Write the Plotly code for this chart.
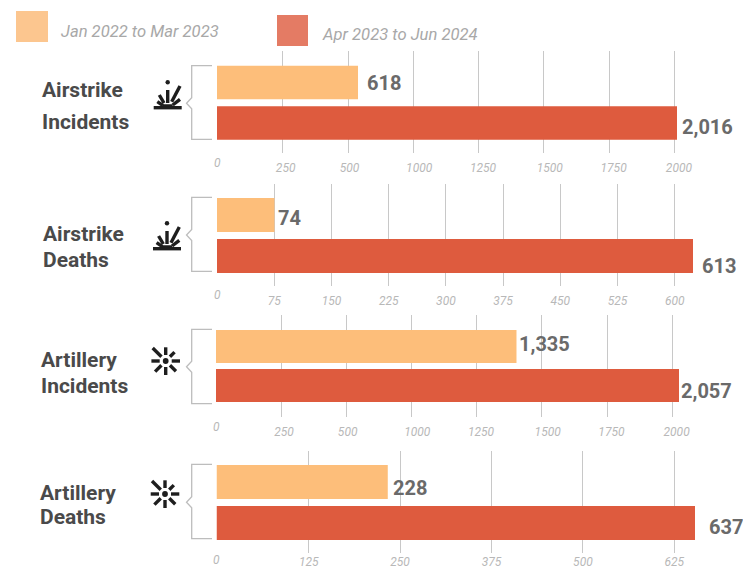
import math
import plotly.graph_objects as go

W, H = 743, 568

# Reporting periods and the figures for each panel
periods = ["Jan 2022 to Mar 2023", "Apr 2023 to Jun 2024"]
airstrike_incidents = [618, 2016]
airstrike_deaths = [74, 613]
artillery_incidents = [1335, 2057]
artillery_deaths = [228, 637]
panel_titles = [["Airstrike", "Incidents"], ["Airstrike", "Deaths"],
                ["Artillery", "Incidents"], ["Artillery", "Deaths"]]

# Axis labels, as printed on each panel
incident_ticks = ["250", "500", "1000", "1250", "1500", "1750", "2000"]
airstrike_death_ticks = ["75", "150", "225", "300", "375", "450", "525", "600"]
artillery_death_ticks = ["125", "250", "375", "500", "625"]

LIGHT, DARK = "#FDBE7A", "#DE5B3E"
SWATCH_LIGHT, SWATCH_DARK = "#FCC68F", "#E47B64"
GRID, BRACKET = "#C8C8C8", "#BDBDBD"
TITLE_C, VALUE_C, TICK_C, LEGEND_C = "#4A4A4A", "#6A6A6A", "#B8B8B8", "#A8A8A8"
FONT = "Roboto, sans-serif"


def px(x):
    return x / W


def py(y):
    return 1 - y / H


panels = [
    dict(values=airstrike_incidents, ticks=incident_ticks, left=217, grid=(51, 153),
         centers=(82.5, 123), bar_h=33.5, px_per_unit=460 / 2016, first_tick=282.7, tick_step=65.3,
         zero_y=162.5, standoff=6, pads=[2, 1, 4, 3, 4, 3, 3], shifts=[(7, 0), (3, 4)],
         title=[(40, 90), (39.5, 122)], bracket=(65.7, 103.3, 139.3), icon=("air", 167.7, 95)),
    dict(values=airstrike_deaths, ticks=airstrike_death_ticks, left=217, grid=(184, 286),
         centers=(215, 256), bar_h=34, px_per_unit=476 / 613, first_tick=274.3, tick_step=57.2,
         zero_y=295.5, standoff=6, pads=[0, 0, 0, 0, 0, 0, 0, 0], shifts=[(2, 3), (7, 10)],
         title=[(41.3, 234), (41.3, 260)], bracket=(197.3, 235, 271.3), icon=("air", 167, 236)),
    dict(values=artillery_incidents, ticks=incident_ticks, left=216, grid=(315, 417),
         centers=(346.5, 385.5), bar_h=33, px_per_unit=463 / 2057, first_tick=281, tick_step=65.2,
         zero_y=426.5, standoff=6, pads=[2, 1, 4, 3, 4, 3, 3], shifts=[(1, -3), (0, 5)],
         title=[(39, 360), (38.7, 386)], bracket=(329.3, 366.7, 403.7), icon=("art", 165.7, 361)),
    dict(values=artillery_deaths, ticks=artillery_death_ticks, left=216.5, grid=(451, 553),
         centers=(482, 523), bar_h=34, px_per_unit=478.5 / 637, first_tick=308.7, tick_step=91.4,
         zero_y=560, standoff=0, pads=[0, 0, 0, 0, 0], shifts=[(3, 6), (12, 4)],
         title=[(38, 492.7), (38, 517.3)], bracket=(464.3, 502.3, 538.7), icon=("art", 165, 494)),
]

fig = go.Figure()
shapes, annotations = [], []


def line(x0, y0, x1, y1, width=3.4, color="#1E1E1E"):
    return dict(type="line", xref="paper", yref="paper", x0=px(x0), y0=py(y0), x1=px(x1), y1=py(y1),
                line=dict(color=color, width=width), layer="above")


def dot(cx, cy, r, color="#1E1E1E"):
    return dict(type="circle", xref="paper", yref="paper", x0=px(cx - r), x1=px(cx + r),
                y0=py(cy - r), y1=py(cy + r), fillcolor=color, line=dict(width=0), layer="above")


def air_icon(cx, cy):
    # Ground line with a burst of rays rising from it
    items = [line(cx - 14, cy + 12.7, cx + 14, cy + 12.7), dot(cx, cy - 12.7, 2.2),
             line(cx - 5, cy + 10.5, cx + 5, cy + 10.5, 2.5)]
    rays = [(12.3, -9, 4, 6.7), (0, -5, 0, 8), (-8.4, 0, -3.7, 8), (-10.4, 6.7, -4.7, 10.5), (12.3, 4.3, 5, 10)]
    items += [line(cx + a, cy + b, cx + c, cy + d) for a, b, c, d in rays]
    return items


def art_icon(cx, cy):
    # Central dot surrounded by eight short spokes, one of them long
    items = [dot(cx, cy, 2.9)]
    reach = {0: 14.3, 45: 14.5, 90: 14, 135: 15, 180: 14.3, 225: 18.4, 270: 13.7, 315: 12.5}
    for ang, r1 in reach.items():
        a = math.radians(ang)
        items.append(line(cx + 6 * math.cos(a), cy + 6 * math.sin(a),
                          cx + r1 * math.cos(a), cy + r1 * math.sin(a)))
    return items


for i, p in enumerate(panels):
    n = "" if i == 0 else str(i + 1)
    scale = p["px_per_unit"]
    span = W - p["left"]
    # Gridline positions expressed in the panel's own units
    tickvals = [(p["first_tick"] + k * p["tick_step"] - p["left"]) / scale for k in range(len(p["ticks"]))]
    ticktext = ["\u00a0" * pad + label for pad, label in zip(p["pads"], p["ticks"])]
    g0, g1 = p["grid"]
    step = p["centers"][1] - p["centers"][0]
    top_units = (p["centers"][0] - g0) / step
    bottom_units = (g1 - p["centers"][0]) / step

    fig.add_trace(go.Bar(
        x=p["values"], y=periods, orientation="h", xaxis="x" + n, yaxis="y" + n,
        marker=dict(color=[LIGHT, DARK], line=dict(width=0)),
        width=p["bar_h"] / step, showlegend=False, hoverinfo="x+y",
    ))
    fig.update_layout({
        "xaxis" + n: dict(
            domain=[px(p["left"]), 1], range=[0, span / scale], anchor="y" + n, automargin=False,
            tickmode="array", tickvals=tickvals, ticktext=ticktext, showline=False, zeroline=False,
            showgrid=True, gridcolor=GRID, gridwidth=1.2, ticks="", ticklabelstandoff=p["standoff"],
            tickangle=0, tickfont=dict(family=FONT, size=12, color=TICK_C, style="italic"),
        ),
        "yaxis" + n: dict(
            domain=[py(g1), py(g0)], range=[bottom_units, -top_units], anchor="x" + n, automargin=False,
            type="category", categoryorder="array", categoryarray=periods,
            showticklabels=False, showgrid=False, zeroline=False, showline=False, ticks="",
        ),
    })

    # Zero label sits a little apart from the other ticks
    annotations.append(dict(text="0", xref="paper", yref="paper", x=px(p["left"]), y=py(p["zero_y"]),
                            showarrow=False, xanchor="center", yanchor="middle",
                            font=dict(family=FONT, size=12, color=TICK_C, style="italic")))

    # Value labels beside each bar
    for period, v, (dx, dy) in zip(periods, p["values"], p["shifts"]):
        annotations.append(dict(text=f"{v:,}", x=v, y=period, xref="x" + n, yref="y" + n, showarrow=False,
                                xanchor="left", yanchor="middle", xshift=dx, yshift=-dy,
                                font=dict(family=FONT, size=20, color=VALUE_C, weight=700)))

    # Two-line panel title
    for word, (tx, ty) in zip(panel_titles[i], p["title"]):
        annotations.append(dict(text=word, xref="paper", yref="paper", x=px(tx), y=py(ty), showarrow=False,
                                xanchor="left", yanchor="middle",
                                font=dict(family=FONT, size=21, color=TITLE_C, weight=700)))

    # Bracket joining the pair of bars
    top, tip, bottom = p["bracket"]
    path = (f"M {px(212)} {py(top)} L {px(191.7)} {py(top)} L {px(191.7)} {py(tip - 5.5)} "
            f"L {px(186.5)} {py(tip)} L {px(191.7)} {py(tip + 5.5)} L {px(191.7)} {py(bottom)} "
            f"L {px(212)} {py(bottom)}")
    shapes.append(dict(type="path", xref="paper", yref="paper", path=path,
                       line=dict(color=BRACKET, width=1.3), layer="above"))

    kind, ix, iy = p["icon"]
    shapes += air_icon(ix, iy) if kind == "air" else art_icon(ix, iy)

# Legend swatches and captions
for (x0, y0, x1, y1), color in zip([(16, 11, 48, 42), (277, 15, 308, 46)], [SWATCH_LIGHT, SWATCH_DARK]):
    shapes.append(dict(type="rect", xref="paper", yref="paper", x0=px(x0), x1=px(x1), y0=py(y0), y1=py(y1),
                       fillcolor=color, line=dict(width=0)))
for label, (lx, ly) in zip(periods, [(59, 31.5), (320, 35)]):
    annotations.append(dict(text=label, xref="paper", yref="paper", x=px(lx), y=py(ly), showarrow=False,
                            xanchor="left", yanchor="middle",
                            font=dict(family=FONT, size=16.6, color=LEGEND_C, style="italic")))

fig.update_layout(width=W, height=H, autosize=False, margin=dict(l=0, r=0, t=0, b=0),
                  paper_bgcolor="white", plot_bgcolor="rgba(0,0,0,0)",
                  shapes=shapes, annotations=annotations, showlegend=False)
fig.write_html("out.html", config=dict(displayModeBar=False))
